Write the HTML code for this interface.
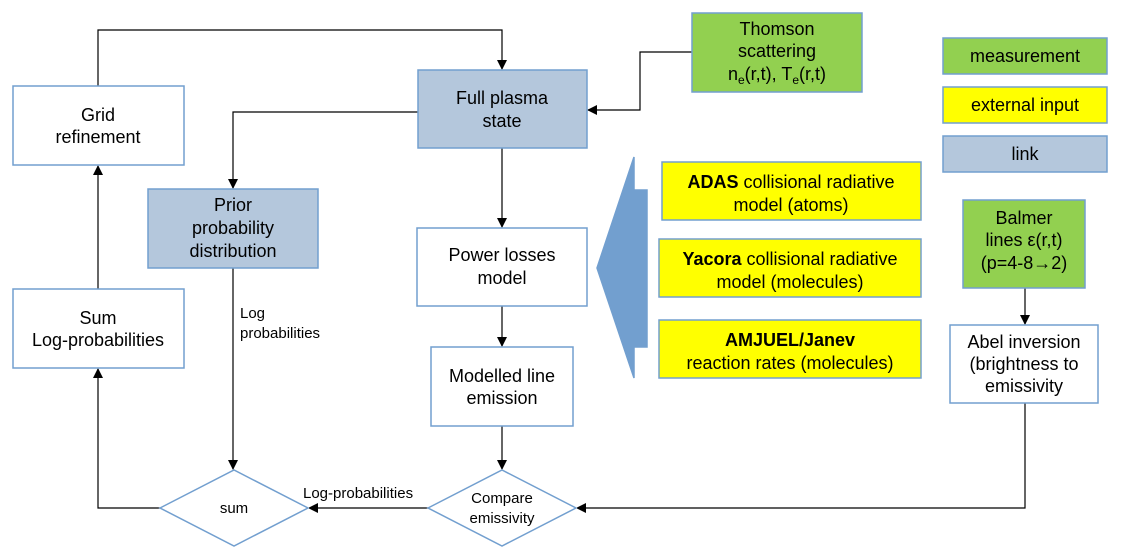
<!DOCTYPE html>
<html><head><meta charset="utf-8"><style>
body{margin:0;background:#fff}
svg{display:block;font-family:"Liberation Sans",sans-serif}
</style></head><body>
<svg width="1122" height="559" viewBox="0 0 1122 559" xmlns="http://www.w3.org/2000/svg">
<defs><marker id="a" markerWidth="10" markerHeight="10" refX="9" refY="5" orient="auto" markerUnits="userSpaceOnUse"><path d="M0,0 L10,5 L0,10z" fill="#000"/></marker></defs>
<g fill="none" stroke="#000" stroke-width="1.2">
<path d="M98,86 V30 H502 V69" marker-end="url(#a)"/>
<path d="M418,112 H233 V188" marker-end="url(#a)"/>
<path d="M502,148 V227" marker-end="url(#a)"/>
<path d="M502,306 V346" marker-end="url(#a)"/>
<path d="M502,426 V469" marker-end="url(#a)"/>
<path d="M692,52 H640 V110 H588" marker-end="url(#a)"/>
<path d="M1025,288 V324" marker-end="url(#a)"/>
<path d="M1025,403 V508 H577" marker-end="url(#a)"/>
<path d="M428,508 H309" marker-end="url(#a)"/>
<path d="M160,508 H98 V369" marker-end="url(#a)"/>
<path d="M98,289 V166" marker-end="url(#a)"/>
<path d="M233,268 V469" marker-end="url(#a)"/>
</g>
<g stroke="#729fcf" stroke-width="1.5">
<rect x="13" y="86" width="171" height="79" fill="#fff"/>
<rect x="418" y="70" width="169" height="78" fill="#b4c7dc"/>
<rect x="148" y="189" width="170" height="79" fill="#b4c7dc"/>
<rect x="417" y="228" width="170" height="78" fill="#fff"/>
<rect x="431" y="347" width="142" height="79" fill="#fff"/>
<rect x="13" y="289" width="171" height="79" fill="#fff"/>
<rect x="692" y="13" width="170" height="79" fill="#92d050"/>
<rect x="943" y="38" width="164" height="36" fill="#92d050"/>
<rect x="943" y="87" width="164" height="36" fill="#ffff00"/>
<rect x="943" y="136" width="164" height="36" fill="#b4c7dc"/>
<rect x="662" y="162" width="259" height="58" fill="#ffff00"/>
<rect x="659" y="239" width="262" height="58" fill="#ffff00"/>
<rect x="659" y="320" width="262" height="58" fill="#ffff00"/>
<rect x="963" y="200" width="122" height="88" fill="#92d050"/>
<rect x="950" y="325" width="148" height="78" fill="#fff"/>
<path d="M160,508 L234,470 L308,508 L234,546z" fill="#fff"/>
<path d="M428,508 L502,470 L576,508 L502,546z" fill="#fff"/>
<path d="M597,268 L634,157 V190 H647 V347 H634 V378z" fill="#729fcf"/>
</g>
<g font-size="18" text-anchor="middle" fill="#000">
<text x="98" y="121">Grid</text><text x="98" y="143">refinement</text>
<text x="502" y="104">Full plasma</text><text x="502" y="127">state</text>
<text x="233" y="211">Prior</text><text x="233" y="234">probability</text><text x="233" y="257">distribution</text>
<text x="502" y="261">Power losses</text><text x="502" y="284">model</text>
<text x="502" y="382">Modelled line</text><text x="502" y="404">emission</text>
<text x="98" y="324">Sum</text><text x="98" y="346">Log-probabilities</text>
<text x="777" y="35">Thomson</text><text x="777" y="57">scattering</text>
<text x="777" y="80">n<tspan font-size="12" dy="4">e</tspan><tspan dy="-4">(r,t), T</tspan><tspan font-size="12" dy="4">e</tspan><tspan dy="-4">(r,t)</tspan></text>
<text x="1025" y="62">measurement</text>
<text x="1025" y="111">external input</text>
<text x="1025" y="160">link</text>
<text x="791" y="188"><tspan font-weight="bold">ADAS</tspan> collisional radiative</text><text x="791" y="211">model (atoms)</text>
<text x="790" y="265"><tspan font-weight="bold">Yacora</tspan> collisional radiative</text><text x="790" y="288">model (molecules)</text>
<text x="790" y="346" font-weight="bold">AMJUEL/Janev</text><text x="790" y="369">reaction rates (molecules)</text>
<text x="1024" y="224">Balmer</text><text x="1024" y="246">lines ε(r,t)</text><text x="1024" y="269">(p=4-8→2)</text>
<text x="1024" y="348">Abel inversion</text><text x="1024" y="370">(brightness to</text><text x="1024" y="392">emissivity</text>
</g>
<g font-size="15" fill="#000">
<text x="234" y="513" text-anchor="middle">sum</text>
<text x="502" y="503" text-anchor="middle">Compare</text><text x="502" y="523" text-anchor="middle">emissivity</text>
<text x="303" y="498">Log-probabilities</text>
<text x="240" y="318">Log</text><text x="240" y="338">probabilities</text>
</g>
</svg>
</body></html>
